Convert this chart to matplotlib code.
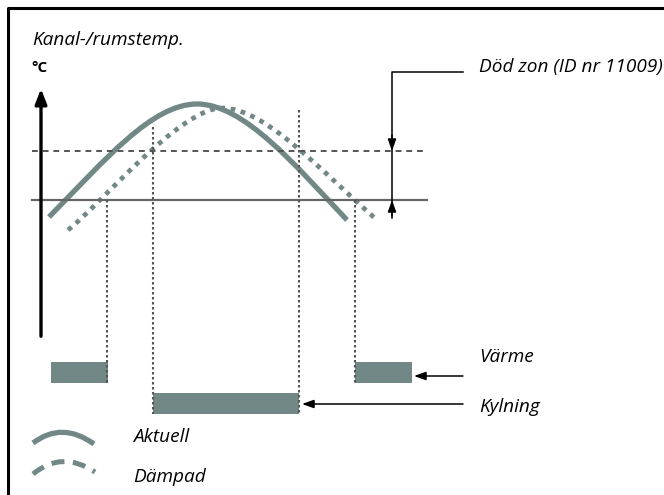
import matplotlib
matplotlib.use("Agg")
import matplotlib.pyplot as plt
from matplotlib.path import Path
from matplotlib.patches import PathPatch

# Curve control points (pixel coords, y downwards):
# start, ctrl, ctrl, peak, ctrl, ctrl, end  (two cubic segments)
aktuell_x = [49, 105, 152, 197, 244, 295, 347]
aktuell_y = [217, 160, 104, 104, 104, 165, 220]
dampad_x = [68, 100, 180, 222, 265, 320, 377]
dampad_y = [230, 205, 108, 108, 108, 170, 220]

# Levels and switch points
setpoint_y = 200
deadzone_y = 151
switch_x = [107, 153, 299, 355]
switch_top = [200, 127, 110, 200]

# Output bars
varme_bars = [(51, 108), (355, 412)]
varme_y = (362, 383)
kyl_bar = (153, 299)
kyl_y = (393, 414)

labels = {
    "title": "Kanal-/rumstemp.",
    "unit": "°C",
    "dodzon": "Död zon (ID nr 11009)",
    "varme": "Värme",
    "kylning": "Kylning",
    "aktuell": "Aktuell",
    "dampad": "Dämpad",
}

curve_col = "#718887"
dark = "#555555"
font = "Open Sans"
fs = 13.7

fig = plt.figure(figsize=(6.64, 4.95), dpi=100)
ax = fig.add_axes([0, 0, 1, 1])
ax.set_xlim(0, 664)
ax.set_ylim(495, 0)
ax.axis("off")


def bezier(xs, ys, **kw):
    codes = [Path.MOVETO] + [Path.CURVE4] * (len(xs) - 1)
    p = PathPatch(Path(list(zip(xs, ys)), codes), fill=False, **kw)
    ax.add_patch(p)
    return p


def quad(xs, ys, **kw):
    codes = [Path.MOVETO, Path.CURVE3, Path.CURVE3]
    p = PathPatch(Path(list(zip(xs, ys)), codes), fill=False, **kw)
    ax.add_patch(p)
    return p


# frame (left and top only)
ax.plot([8, 8, 664], [495, 8, 8], color="black", lw=2.2, solid_capstyle="butt")

# texts
ax.text(32, 40, labels["title"], fontsize=fs, style="italic", family=font, va="center", ha="left")
ax.text(31, 68, labels["unit"], fontsize=11, weight="bold", family=font, va="center", ha="left")

# y axis arrow
ax.annotate("", xy=(41, 86), xytext=(41, 339),
            arrowprops=dict(arrowstyle="-|>,head_length=0.9,head_width=0.35", color="black", lw=2.4))

# horizontal reference lines
ax.plot([32, 427], [deadzone_y, deadzone_y], color=dark, lw=1.4, dashes=(3, 2.5))
ax.plot([32, 427], [setpoint_y, setpoint_y], color="#666666", lw=1.6)

# curves
bezier(aktuell_x, aktuell_y, edgecolor=curve_col, lw=3.8, capstyle="butt")
bezier(dampad_x, dampad_y, edgecolor=curve_col, lw=3.4, linestyle=(0, (1, 1.2)), capstyle="butt")

# bars
for x0, x1 in varme_bars:
    ax.fill_between([x0, x1], varme_y[0], varme_y[1], color=curve_col, lw=0)
ax.fill_between(list(kyl_bar), kyl_y[0], kyl_y[1], color=curve_col, lw=0)

# vertical dotted switch lines
bottoms = [varme_y[1], kyl_y[1], kyl_y[1], varme_y[1]]
for xs, top, bot in zip(switch_x, switch_top, bottoms):
    ax.plot([xs, xs], [top, bot], color=dark, lw=1.5, dashes=(1.2, 1.2))

# pointer arrows
arrow = dict(arrowstyle="-|>,head_length=0.7,head_width=0.25", color="black", lw=1.1, shrinkA=0, shrinkB=0)
ax.annotate("", xy=(414, 376), xytext=(463, 376), arrowprops=arrow)
ax.annotate("", xy=(302, 404), xytext=(463, 404), arrowprops=arrow)
ax.text(479, 357, labels["varme"], fontsize=fs, style="italic", family=font, va="center")
ax.text(479, 407, labels["kylning"], fontsize=fs, style="italic", family=font, va="center")

# dead zone callout
ax.plot([463, 392, 392], [72, 72, 218], color="black", lw=1.1)
ax.annotate("", xy=(392, 151), xytext=(392, 135), arrowprops=arrow)
ax.annotate("", xy=(392, 200), xytext=(392, 216), arrowprops=arrow)
ax.text(479, 67, labels["dodzon"], fontsize=fs, style="italic", family=font, va="center")

# legend
quad([33, 62, 94], [443, 421, 444], edgecolor=curve_col, lw=3.8, capstyle="butt")
quad([33, 62, 95], [474, 450, 472], edgecolor=curve_col, lw=3.6, linestyle=(0, (2.6, 1.7)), capstyle="butt")
ax.text(133, 437, labels["aktuell"], fontsize=fs, style="italic", family=font, va="center")
ax.text(133, 477, labels["dampad"], fontsize=fs, style="italic", family=font, va="center")

fig.savefig("out.png", dpi=100)
